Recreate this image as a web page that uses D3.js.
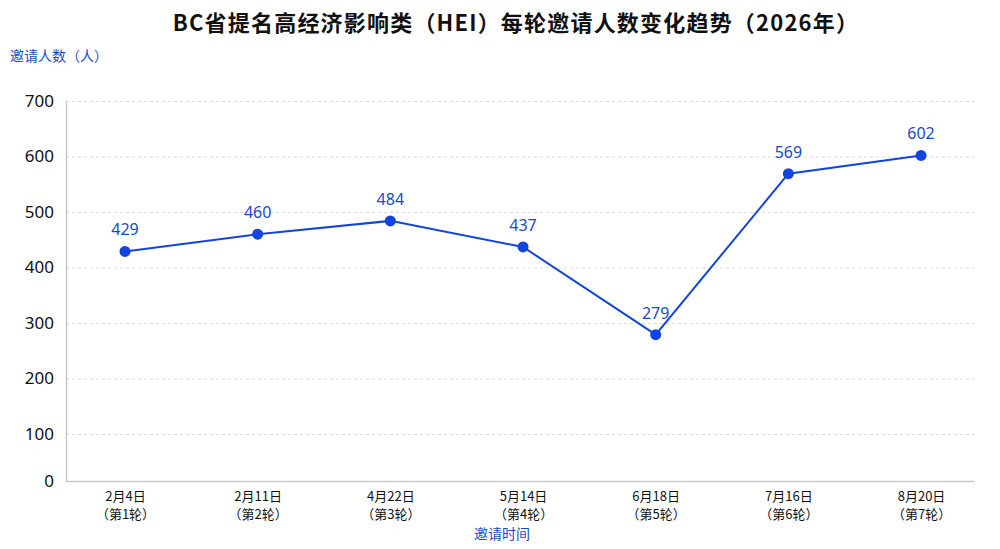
<!DOCTYPE html>
<html>
<head>
<meta charset="utf-8">
<script src="https://cdn.jsdelivr.net/npm/d3@7"></script>
<style>
  body { margin: 0; background: #fff; }
  text { font-family: "Noto Sans CJK SC", "Noto Sans", sans-serif; }
</style>
</head>
<body>
<svg id="chart" width="1000" height="549"></svg>
<script>
// data
const dates = ["2月4日", "2月11日", "4月22日", "5月14日", "6月18日", "7月16日", "8月20日"];
const rounds = ["（第1轮）", "（第2轮）", "（第3轮）", "（第4轮）", "（第5轮）", "（第6轮）", "（第7轮）"];
const invites = [429, 460, 484, 437, 279, 569, 602];
const yTicks = [0, 100, 200, 300, 400, 500, 600, 700];

const svg = d3.select("svg#chart");
const margin = { left: 66, right: 26, top: 101, bottom: 68 };
const width = 1000 - margin.left - margin.right;
const height = 549 - margin.top - margin.bottom;
const blue = "#1244de";
const labelBlue = "#1a49c8";

let chartArea = svg.append("g")
    .attr("transform", `translate(${margin.left}, ${margin.top})`);

// scales (the bottom band 0-100 is a bit squeezed in the original)
const xScale = d3.scalePoint().domain(dates).range([0, width]).padding(0.422).align(0.527);
const yScale = d3.scaleLinear()
    .domain([0, 100, 700])
    .range([height, height - 47, 0]);

// title
svg.append("text")
    .text("BC省提名高经济影响类（HEI）每轮邀请人数变化趋势（2026年）")
    .attr("x", 516)
    .attr("y", 31)
    .attr("text-anchor", "middle")
    .style("font-size", "22px")
    .style("font-weight", "bold")
    .style("letter-spacing", "1.2px")
    .attr("fill", "#111");

// y title
svg.append("text")
    .text("邀请人数（人）")
    .attr("x", 10)
    .attr("y", 61)
    .style("font-size", "14px")
    .attr("fill", labelBlue);

// gridlines
chartArea.append("g")
    .attr("class", "gridlines")
    .call(d3.axisLeft(yScale).tickValues(yTicks.slice(1)).tickSize(-width).tickFormat(""))
    .call(g => g.select(".domain").remove())
    .call(g => g.selectAll("line")
        .attr("stroke", "#dcdcdc")
        .style("stroke-dasharray", "3, 3"));

// y axis
chartArea.append("g")
    .attr("class", "y axis")
    .call(d3.axisLeft(yScale).tickValues(yTicks).tickSize(0).tickPadding(12))
    .call(g => g.select(".domain").attr("stroke", "#c8c8c8").attr("stroke-width", 1.5))
    .call(g => g.selectAll("text")
        .style("font-size", "17px")
        .style("font-family", "'Noto Sans', sans-serif")
        .attr("fill", "#111"));

// x axis
let xAxis = chartArea.append("g")
    .attr("class", "x axis")
    .attr("transform", `translate(0, ${height})`)
    .call(d3.axisBottom(xScale).tickSize(0).tickPadding(0).tickFormat(""));
xAxis.select(".domain").attr("stroke", "#c8c8c8").attr("stroke-width", 1.5);
xAxis.selectAll(".tick").each(function (d, i) {
    let tick = d3.select(this);
    tick.append("text")
        .text(dates[i])
        .attr("y", 20)
        .attr("fill", "#111")
        .attr("text-anchor", "middle")
        .style("font-size", "13px");
    tick.append("text")
        .text(rounds[i])
        .attr("y", 38)
        .attr("fill", "#111")
        .attr("text-anchor", "middle")
        .style("font-size", "13px");
});

// x title
svg.append("text")
    .text("邀请时间")
    .attr("x", 502)
    .attr("y", 539)
    .attr("text-anchor", "middle")
    .style("font-size", "14px")
    .attr("fill", labelBlue);

// line
const line = d3.line()
    .x((d, i) => xScale(dates[i]))
    .y(d => yScale(d));
chartArea.append("path")
    .datum(invites)
    .attr("d", line)
    .attr("fill", "none")
    .attr("stroke", blue)
    .attr("stroke-width", 2);

// points
chartArea.selectAll("circle.pt")
    .data(invites)
    .join("circle")
    .attr("class", "pt")
    .attr("cx", (d, i) => xScale(dates[i]))
    .attr("cy", d => yScale(d))
    .attr("r", 5.5)
    .attr("fill", blue);

// value labels
chartArea.selectAll("text.val")
    .data(invites)
    .join("text")
    .attr("class", "val")
    .text(d => d)
    .attr("x", (d, i) => xScale(dates[i]))
    .attr("y", d => yScale(d) - 16)
    .attr("text-anchor", "middle")
    .style("font-size", "16px")
    .style("font-family", "'Noto Sans', sans-serif")
    .attr("fill", labelBlue);
</script>
</body>
</html>
